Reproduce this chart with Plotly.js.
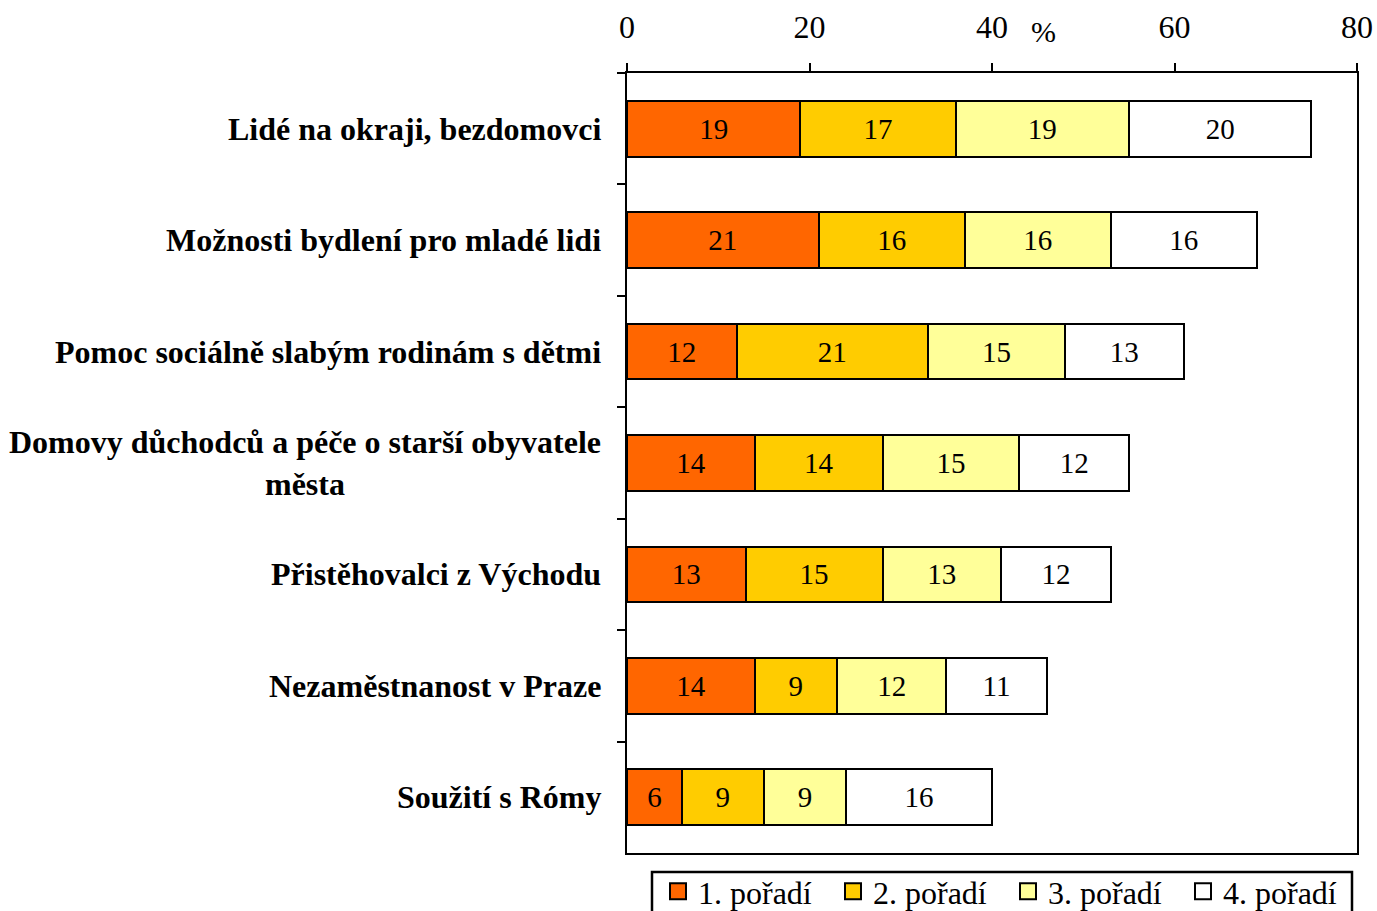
<!DOCTYPE html>
<html>
<head>
<meta charset="utf-8">
<script src="https://cdn.plot.ly/plotly-3.0.1.min.js"></script>
<style>html,body{margin:0;padding:0;background:#fff;}</style>
</head>
<body>
<div id="chart" style="width:1377px;height:911px;"></div>
<script>
const categories = [
  'Lidé na okraji, bezdomovci',
  'Možnosti bydlení pro mladé lidi',
  'Pomoc sociálně slabým rodinám s dětmi',
  'Domovy důchodců a péče o starší obyvatele<br>města',
  'Přistěhovalci z Východu',
  'Nezaměstnanost v Praze',
  'Soužití s Rómy'
];
const rank1 = [19, 21, 12, 14, 13, 14, 6];
const rank2 = [17, 16, 21, 14, 15, 9, 9];
const rank3 = [19, 16, 15, 15, 13, 12, 9];
const rank4 = [20, 16, 13, 12, 12, 11, 16];
const seriesNames = ['1. pořadí', '2. pořadí', '3. pořadí', '4. pořadí'];
const seriesColors = ['#FF6600', '#FFCC00', '#FFFF99', '#FFFFFF'];
const xTickValues = [0, 20, 40, 60, 80];
const axisUnit = '%';

const serif = 'Liberation Serif, Times New Roman, serif';
const allSeries = [rank1, rank2, rank3, rank4];

const traces = allSeries.map((vals, i) => ({
  type: 'bar',
  orientation: 'h',
  name: seriesNames[i],
  legendgroup: 'g' + i,
  showlegend: false,
  y: categories,
  x: vals,
  text: vals.map(String),
  textposition: 'inside',
  insidetextanchor: 'middle',
  textangle: 0,
  constraintext: 'none',
  textfont: {family: serif, size: 29, color: '#000'},
  marker: {color: seriesColors[i], line: {color: '#000', width: 2}},
  hoverinfo: 'skip'
}));

// legend-only entries with larger square swatches
seriesNames.forEach((n, i) => {
  traces.push({
    type: 'scatter',
    mode: 'markers',
    name: n,
    legendgroup: 'g' + i,
    x: [null], y: [null],
    marker: {symbol: 'square', size: 18, color: seriesColors[i], line: {color: '#000', width: 2}},
    hoverinfo: 'skip'
  });
});

const annotations = categories.map(c => ({
  xref: 'paper', yref: 'y',
  x: 0, y: c,
  xanchor: 'right', yanchor: 'middle',
  xshift: -24,
  align: 'center',
  showarrow: false,
  text: '<b>' + c + '</b>',
  font: {family: serif, size: 32, color: '#000'}
}));
annotations.push({
  xref: 'paper', yref: 'paper',
  x: (1043 - 627) / 730, y: 1,
  yshift: 42,
  xanchor: 'center', yanchor: 'middle',
  showarrow: false,
  text: axisUnit,
  font: {family: serif, size: 30, color: '#000'}
});

const layout = {
  width: 1377, height: 911,
  margin: {l: 627, r: 20, t: 73, b: 58, autoexpand: false},
  paper_bgcolor: '#fff', plot_bgcolor: '#fff',
  barmode: 'stack',
  bargap: 0.5,
  showlegend: true,
  xaxis: {
    side: 'top',
    range: [0, 80],
    tickmode: 'array',
    tickvals: xTickValues,
    ticktext: xTickValues.map(String),
    ticks: 'outside', ticklen: 8, tickwidth: 2, tickcolor: '#000',
    ticklabelstandoff: 12,
    showline: true, linecolor: '#000', linewidth: 2, mirror: true,
    showgrid: false, zeroline: false,
    tickfont: {family: serif, size: 32, color: '#000'},
    fixedrange: true
  },
  yaxis: {
    type: 'category',
    autorange: 'reversed',
    tickson: 'boundaries',
    ticks: 'outside', ticklen: 8, tickwidth: 2, tickcolor: '#000',
    showticklabels: false,
    showline: true, linecolor: '#000', linewidth: 2, mirror: true,
    showgrid: false, zeroline: false,
    fixedrange: true
  },
  legend: {
    orientation: 'h',
    x: (658 - 627) / 730, xanchor: 'left',
    y: -0.014, yanchor: 'top',
    borderwidth: 0,
    bgcolor: 'rgba(0,0,0,0)',
    entrywidth: 130,
    traceorder: 'normal',
    font: {family: serif, size: 32, color: '#000'}
  },
  shapes: [{
    type: 'rect', xref: 'paper', yref: 'paper',
    x0: (652 - 627) / 730, x1: (1352 - 627) / 730,
    y0: -(872 - 853) / 780, y1: -(935 - 853) / 780,
    line: {color: '#000', width: 2.5},
    fillcolor: 'rgba(0,0,0,0)',
    layer: 'below'
  }],
  annotations: annotations,
  hovermode: false
};

Plotly.newPlot('chart', traces, layout, {displayModeBar: false, staticPlot: true});
</script>
</body>
</html>
